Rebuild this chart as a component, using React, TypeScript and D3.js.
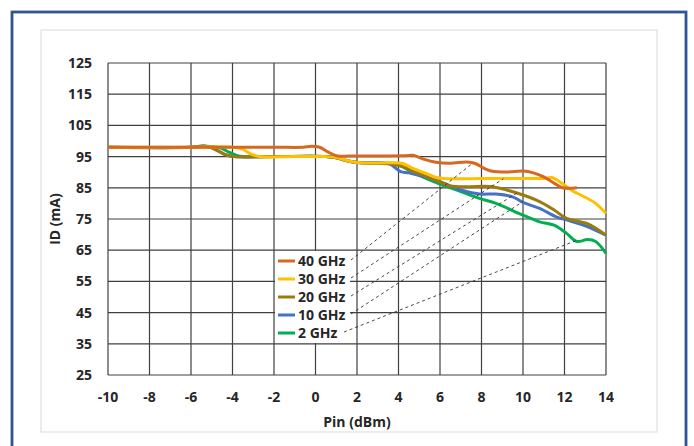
import React from "react";
import * as d3 from "d3";

const xTicks = [-10, -8, -6, -4, -2, 0, 2, 4, 6, 8, 10, 12, 14];
const yTicks = [25, 35, 45, 55, 65, 75, 85, 95, 105, 115, 125];

const seriesNames = ["40 GHz", "30 GHz", "20 GHz", "10 GHz", "2 GHz"];
const seriesColors = ["#D8671F", "#FFC000", "#9C7A0C", "#4472C4", "#00B050"];

const pin40 = [-10, -6, -2, -0.6, -0.2, 0.2, 0.6, 1.0, 2, 3, 4.3, 4.7, 5.2, 5.8, 6.5, 7.3, 7.7, 8.2, 8.6, 9.3, 10.0, 10.5, 11.0, 11.5, 11.9, 12.6];
const id40 = [98, 98, 98, 98, 98.3, 98, 96.5, 95.3, 95.2, 95.2, 95.3, 95.4, 94.2, 93.2, 92.9, 93.3, 92.8, 91, 90.2, 90.1, 90.4, 89.8, 88.5, 86.5, 85.0, 85.0];

const pin30 = [-10, -6, -4.0, -3.5, -3.1, -2.7, -1, 0.5, 1.0, 1.6, 2.2, 3.5, 4.2, 4.7, 5.3, 5.9, 6.4, 8, 10, 11.0, 11.4, 11.8, 12.4, 12.9, 13.5, 14];
const id30 = [98, 98, 98, 97.3, 95.8, 95, 95, 95, 94.7, 93.6, 93, 93, 92.8, 91.2, 89.7, 88.2, 87.9, 88, 88, 88, 88.3, 86.8, 84, 82.3, 80, 76.8];

const pin20 = [-10, -6, -5.4, -5.0, -4.6, -4.3, -3.9, -2, 0.5, 1.0, 1.6, 2.2, 3.5, 4.2, 4.8, 5.5, 6.0, 6.5, 7.3, 8.4, 9.2, 10.0, 10.8, 11.5, 12.1, 13.1, 14];
const id20 = [98, 98, 98.4, 97.8, 96.5, 95.5, 95, 95, 95, 94.6, 93.5, 93, 92.7, 91.8, 90, 88.2, 86.8, 85.6, 85.3, 85.4, 84.3, 82.7, 80.6, 77.9, 75.2, 73.5, 69.8];

const pin10 = [-10, -6, -5.4, -5.0, -4.6, -4.3, -3.9, -2, 0.5, 1.0, 1.6, 2.2, 3.2, 3.6, 4.1, 4.5, 5.5, 6.0, 7.0, 7.9, 8.7, 9.5, 10.0, 10.8, 11.6, 12.1, 13.1, 14];
const id10 = [98, 98, 98.4, 97.8, 96.5, 95.5, 95, 95, 95, 94.6, 93.5, 93, 93, 92.6, 90.2, 89.8, 88, 87, 84.3, 83, 83, 82.1, 80.3, 78.4, 75.7, 74.7, 72.6, 69.8];

const pin2 = [-10, -6, -5.3, -4.6, -4.2, -3.8, -3.5, -2, 0.5, 1.0, 1.6, 2.2, 3.4, 3.9, 4.4, 5.0, 6.0, 7.0, 7.9, 8.7, 9.8, 10.8, 11.5, 12.1, 12.6, 13.1, 13.5, 14];
const id2 = [98, 98, 98.3, 97.8, 96.5, 95.4, 95, 95, 95, 94.6, 93.6, 93, 92.9, 92.6, 91, 89, 86.2, 83.8, 81.6, 80, 76.8, 74.1, 73, 70.4, 67.8, 68.4, 67.8, 64];

// where each legend leader line points to on its curve
const leaderPin = [7.6, 9.05, 9.7, 10.0, 12.6];
const leaderId = [93.0, 87.9, 83.3, 80.6, 68.2];

const seriesPins = [pin40, pin30, pin20, pin10, pin2];
const seriesIds = [id40, id30, id20, id10, id2];

const FONT = "'Open Sans', 'Liberation Sans', sans-serif";

export default function App() {
  const W = 694;
  const H = 446;
  const x = d3.scaleLinear().domain([-10, 14]).range([108, 606]);
  const y = d3.scaleLinear().domain([25, 125]).range([375, 63]);

  const line = d3
    .line<[number, number]>()
    .x((d) => x(d[0]))
    .y((d) => y(d[1]))
    .curve(d3.curveCatmullRom.alpha(0.5));

  const series = seriesNames.map((name, i) => ({
    name,
    color: seriesColors[i],
    pts: seriesPins[i].map((p, j) => [p, seriesIds[i][j]] as [number, number]),
  }));

  const legX = 275;
  const legY = 251;
  const rowH = 18;
  const legW = 75;
  const legH = 92;

  return (
    <svg
      width={W}
      height={H}
      style={{ position: "absolute", left: 0, top: 0, background: "#fff" }}
      fontFamily={FONT}
    >
      <rect x={12} y={12} width={674} height={440} fill="none" stroke="#2F5597" strokeWidth={2.8} />
      <rect x={41} y={30} width={616} height={402} fill="#fff" stroke="#D9D9D9" strokeWidth={1} />

      {/* grid */}
      <g stroke="#404040" strokeWidth={1.2}>
        {xTicks.map((t) => (
          <line key={"vx" + t} x1={x(t)} x2={x(t)} y1={y(125)} y2={y(25)} />
        ))}
        {yTicks.map((t) => (
          <line key={"hy" + t} x1={x(-10)} x2={x(14)} y1={y(t)} y2={y(t)} />
        ))}
      </g>

      {/* y tick labels */}
      <g fontSize={14} fontWeight={700} fill="#262626" textAnchor="end">
        {yTicks.map((t) => (
          <text key={"yt" + t} x={92} y={y(t)} dy="0.35em">
            {t}
          </text>
        ))}
      </g>
      {/* x tick labels */}
      <g fontSize={14} fontWeight={700} fill="#262626" textAnchor="middle">
        {xTicks.map((t) => (
          <text key={"xt" + t} x={x(t)} y={402}>
            {t}
          </text>
        ))}
      </g>
      <text x={357} y={427} fontSize={14} fontWeight={700} fill="#262626" textAnchor="middle">
        Pin (dBm)
      </text>
      <text
        transform={`translate(60,${(y(25) + y(125)) / 2}) rotate(-90)`}
        fontSize={14}
        fontWeight={700}
        fill="#262626"
        textAnchor="middle"
      >
        ID (mA)
      </text>

      {/* series: draw 2 GHz first, 40 GHz on top */}
      {series
        .slice()
        .reverse()
        .map((s) => (
          <path key={s.name} d={line(s.pts) || ""} fill="none" stroke={s.color} strokeWidth={3} strokeLinejoin="round" />
        ))}

      {/* legend */}
      <rect x={legX} y={legY} width={legW} height={legH} fill="#fff" />
      {series.map((s, i) => (
        <g key={"lg" + s.name}>
          <line
            x1={legX + 3}
            x2={legX + 20}
            y1={legY + 10 + i * rowH}
            y2={legY + 10 + i * rowH}
            stroke={s.color}
            strokeWidth={3}
          />
          <text
            x={legX + 23}
            y={legY + 10 + i * rowH}
            dy="0.35em"
            fontSize={14}
            fontWeight={700}
            fill="#262626"
          >
            {s.name}
          </text>
        </g>
      ))}

      {/* leader lines */}
      <g stroke="#333" strokeWidth={0.9} strokeDasharray="3,3" fill="none">
        {series.map((s, i) => (
          <line
            key={"ld" + s.name}
            x1={i === 4 ? legX + 69 : legX + 76}
            y1={legY + 9 + i * rowH}
            x2={x(leaderPin[i])}
            y2={y(leaderId[i])}
          />
        ))}
      </g>
    </svg>
  );
}
